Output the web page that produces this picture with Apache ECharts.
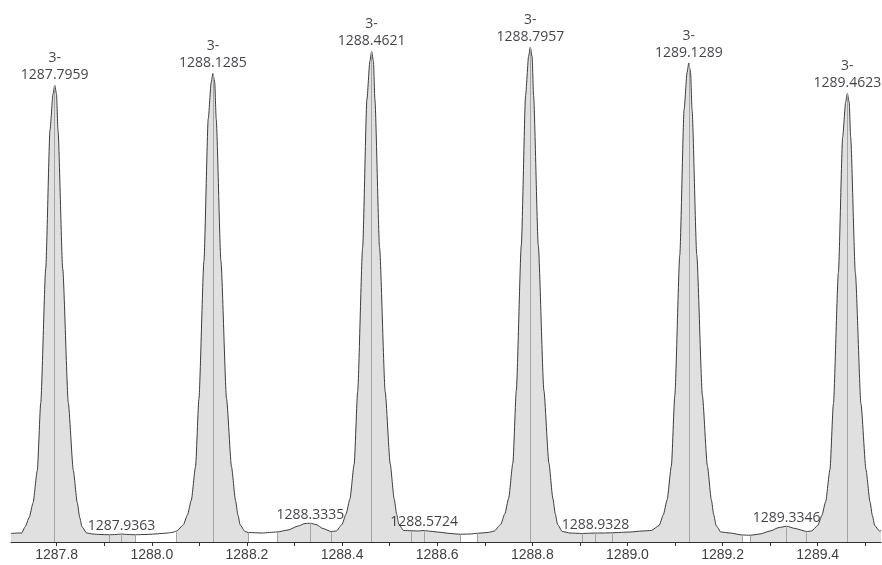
<!DOCTYPE html>
<html><head><meta charset="utf-8">
<script src="https://cdn.jsdelivr.net/npm/echarts@6/dist/echarts.min.js"></script>
<style>html,body{margin:0;padding:0;background:#fff}#c{width:882px;height:565px}</style>
</head><body><div id="c"></div>
<script>
// ---- profile data (m/z, relative intensity) ----
const lead = [[1287.7040, 1.7], [1287.7187, 1.8], [1287.7265, 1.8]];
const peak1 = [[1287.7335, 3.0], [1287.7423, 4.9], [1287.7503, 7.8], [1287.7593, 14.3], [1287.7665, 27.8], [1287.7770, 54.7], [1287.7860, 82.4], [1287.7923, 89.6], [1287.7959, 91.4], [1287.7997, 89.6], [1287.8028, 82.4], [1287.8127, 54.7], [1287.8245, 27.8], [1287.8350, 14.3], [1287.8434, 7.8], [1287.8485, 4.9], [1287.8533, 3.0], [1287.8632, 1.8]];
const gap1 = [[1287.8763, 1.6], [1287.8910, 1.5], [1287.9106, 1.45], [1287.9250, 1.5], [1287.9363, 1.6], [1287.9500, 1.5], [1287.9661, 1.45], [1287.9857, 1.5], [1288.0067, 1.6], [1288.0277, 1.75], [1288.0424, 1.9], [1288.0523, 2.2]];
const peak2 = [[1288.0661, 3.4], [1288.0749, 5.4], [1288.0829, 8.3], [1288.0919, 15.0], [1288.0991, 28.7], [1288.1096, 56.2], [1288.1186, 84.6], [1288.1249, 91.9], [1288.1285, 93.7], [1288.1323, 91.9], [1288.1354, 84.6], [1288.1453, 56.2], [1288.1571, 28.7], [1288.1676, 15.0], [1288.1760, 8.3], [1288.1811, 5.4], [1288.1859, 3.4], [1288.1958, 2.1]];
const gap2 = [[1288.2029, 1.9], [1288.2317, 1.8], [1288.2633, 2.0], [1288.2865, 2.4], [1288.3075, 3.2], [1288.3222, 3.7], [1288.3335, 3.75], [1288.3451, 3.5], [1288.3599, 2.7], [1288.3767, 2.1], [1288.3880, 2.2]];
const peak3 = [[1288.3997, 3.5], [1288.4085, 5.6], [1288.4165, 8.6], [1288.4255, 15.6], [1288.4327, 30.0], [1288.4432, 58.8], [1288.4522, 88.5], [1288.4585, 96.2], [1288.4621, 98.1], [1288.4659, 96.2], [1288.4690, 88.5], [1288.4789, 58.8], [1288.4907, 30.0], [1288.5012, 15.6], [1288.5096, 8.6], [1288.5147, 5.6], [1288.5195, 3.5], [1288.5294, 2.3]];
const gap3 = [[1288.5464, 2.25], [1288.5600, 2.2], [1288.5724, 2.3], [1288.5850, 2.15], [1288.6059, 1.95], [1288.6270, 1.7], [1288.6480, 1.55], [1288.6690, 1.6], [1288.6852, 1.75], [1288.7069, 1.9], [1288.7200, 2.2]];
const peak4 = [[1288.7333, 3.5], [1288.7421, 5.6], [1288.7501, 8.7], [1288.7591, 15.8], [1288.7663, 30.3], [1288.7768, 59.3], [1288.7858, 89.3], [1288.7921, 97.1], [1288.7957, 99.0], [1288.7995, 97.1], [1288.8026, 89.3], [1288.8125, 59.3], [1288.8243, 30.3], [1288.8348, 15.8], [1288.8432, 8.7], [1288.8483, 5.6], [1288.8531, 3.5], [1288.8630, 2.1]];
const gap4 = [[1288.8793, 1.8], [1288.9040, 1.7], [1288.9180, 1.75], [1288.9328, 1.8], [1288.9500, 1.8], [1288.9682, 1.85], [1289.0054, 2.0], [1289.0307, 2.2], [1289.0500, 2.3]];
const peak5 = [[1289.0665, 3.3], [1289.0753, 5.4], [1289.0833, 8.4], [1289.0923, 15.2], [1289.0995, 29.3], [1289.1100, 57.4], [1289.1190, 86.4], [1289.1253, 93.9], [1289.1289, 95.8], [1289.1327, 93.9], [1289.1358, 86.4], [1289.1457, 57.4], [1289.1575, 29.3], [1289.1680, 15.2], [1289.1764, 8.4], [1289.1815, 5.4], [1289.1863, 3.3], [1289.1962, 2.0]];
const gap5 = [[1289.2157, 1.8], [1289.2416, 1.4], [1289.2577, 1.35], [1289.2788, 1.6], [1289.2998, 2.2], [1289.3187, 2.9], [1289.3346, 3.15], [1289.3524, 2.7], [1289.3769, 2.1], [1289.3870, 2.2]];
const peak6 = [[1289.3999, 3.3], [1289.4087, 5.3], [1289.4167, 8.1], [1289.4257, 14.5], [1289.4329, 27.6], [1289.4434, 53.8], [1289.4524, 81.0], [1289.4587, 88.0], [1289.4623, 89.7], [1289.4661, 88.0], [1289.4692, 81.0], [1289.4791, 53.8], [1289.4909, 27.6], [1289.5014, 14.5], [1289.5098, 8.1], [1289.5149, 5.3], [1289.5197, 3.3], [1289.5296, 2.2], [1289.5330, 2.3]];

// integrated (shaded) m/z ranges
const fillRanges = [[1287.7040, 1287.9661], [1288.0523, 1288.2029], [1288.2633, 1288.6480], [1288.6852, 1289.2416], [1289.2577, 1289.5330]];
// vertical marker lines (centroids and range borders)
const markerMz = [1287.7959, 1287.9106, 1287.9363, 1287.9661, 1288.0523, 1288.1285, 1288.2029, 1288.2633, 1288.3335, 1288.3767, 1288.4621, 1288.5464, 1288.5724, 1288.6480, 1288.6852, 1288.7957, 1288.9040, 1288.9328, 1288.9682, 1289.1289, 1289.2416, 1289.2577, 1289.3346, 1289.3769, 1289.4623];
// labelled peaks
const majorMz = [1287.7959, 1288.1285, 1288.4621, 1288.7957, 1289.1289, 1289.4623];
const majorCharge = ['3-', '3-', '3-', '3-', '3-', '3-'];
const minorMz = [1287.9363, 1288.3335, 1288.5724, 1288.9328, 1289.3346];
// axis
const tickLabels = [1287.8, 1288.0, 1288.2, 1288.4, 1288.6, 1288.8, 1289.0, 1289.2, 1289.4];
const tickMarks = [1287.8, 1287.9, 1288.0, 1288.1, 1288.2, 1288.3, 1288.4, 1288.5, 1288.6, 1288.7, 1288.8, 1288.9, 1289.0, 1289.1, 1289.2, 1289.3, 1289.4, 1289.5];

const profile = [].concat(lead, peak1, gap1, peak2, gap2, peak3, gap3, peak4, gap4, peak5, gap5, peak6);

function curveAt(x) {
  for (let i = 1; i < profile.length; i++) {
    const a = profile[i - 1], b = profile[i];
    if (x >= a[0] - 1e-9 && x <= b[0] + 1e-9) {
      const t = (b[0] === a[0]) ? 0 : (x - a[0]) / (b[0] - a[0]);
      return a[1] + t * (b[1] - a[1]);
    }
  }
  return 0;
}

const SMOOTH = 0.2;
const TEXT = '#101018';
const series = [];
fillRanges.forEach(r => {
  series.push({
    type: 'line', silent: true, z: 1, smooth: SMOOTH, smoothMonotone: 'x', symbol: 'none',
    data: profile.filter(p => p[0] >= r[0] - 1e-9 && p[0] <= r[1] + 1e-9),
    lineStyle: { width: 0 },
    areaStyle: { color: '#e0e0e0', opacity: 1, origin: 'start' }
  });
});
series.push({
  type: 'line', silent: true, z: 2, data: [], symbol: 'none',
  markLine: {
    silent: true, symbol: ['none', 'none'], animation: false,
    label: { show: false },
    lineStyle: { color: '#a4a4a4', width: 1, type: 'solid' },
    emphasis: { disabled: true },
    data: markerMz.map(x => [{ coord: [x, 0] }, { coord: [x, curveAt(x)] }])
  }
});
series.push({
  type: 'line', silent: true, z: 3, smooth: SMOOTH, smoothMonotone: 'x', symbol: 'none',
  data: profile,
  lineStyle: { color: '#3c3c3c', width: 1 }
});
series.push({
  type: 'scatter', silent: true, z: 4, symbolSize: 1, clip: false,
  itemStyle: { color: 'rgba(0,0,0,0)' },
  data: majorMz.map((m, i) => ({ value: [m, curveAt(m)], charge: majorCharge[i] })),
  label: {
    show: true, position: 'top', distance: 1,
    formatter: p => p.data.charge + '\n' + p.data.value[0].toFixed(4),
    fontFamily: 'Open Sans', fontSize: 14, lineHeight: 17, color: TEXT, align: 'center'
  }
});
series.push({
  type: 'scatter', silent: true, z: 4, symbolSize: 1, clip: false,
  itemStyle: { color: 'rgba(0,0,0,0)' },
  data: minorMz.map(m => [m, curveAt(m)]),
  label: {
    show: true, position: 'top', distance: -1,
    formatter: p => p.value[0].toFixed(4),
    fontFamily: 'Open Sans', fontSize: 14, lineHeight: 17, color: TEXT
  }
});

const chart = echarts.init(document.getElementById('c'), null, { renderer: 'canvas' });
chart.setOption({
  animation: false,
  backgroundColor: '#ffffff',
  grid: { left: 11, right: 1, top: 42, bottom: 23 },
  xAxis: {
    type: 'value', min: 1287.704, max: 1289.533,
    axisLine: { show: true, lineStyle: { color: '#333333', width: 1 } },
    axisTick: { show: true, length: 4, customValues: tickMarks, lineStyle: { color: '#333333' } },
    axisLabel: { customValues: tickLabels, formatter: v => v.toFixed(1), fontFamily: 'Liberation Sans', fontSize: 14, color: '#404040', margin: 6 },
    splitLine: { show: false }
  },
  yAxis: { type: 'value', min: 0, max: 100, show: false },
  series: series
});
</script>
</body></html>
